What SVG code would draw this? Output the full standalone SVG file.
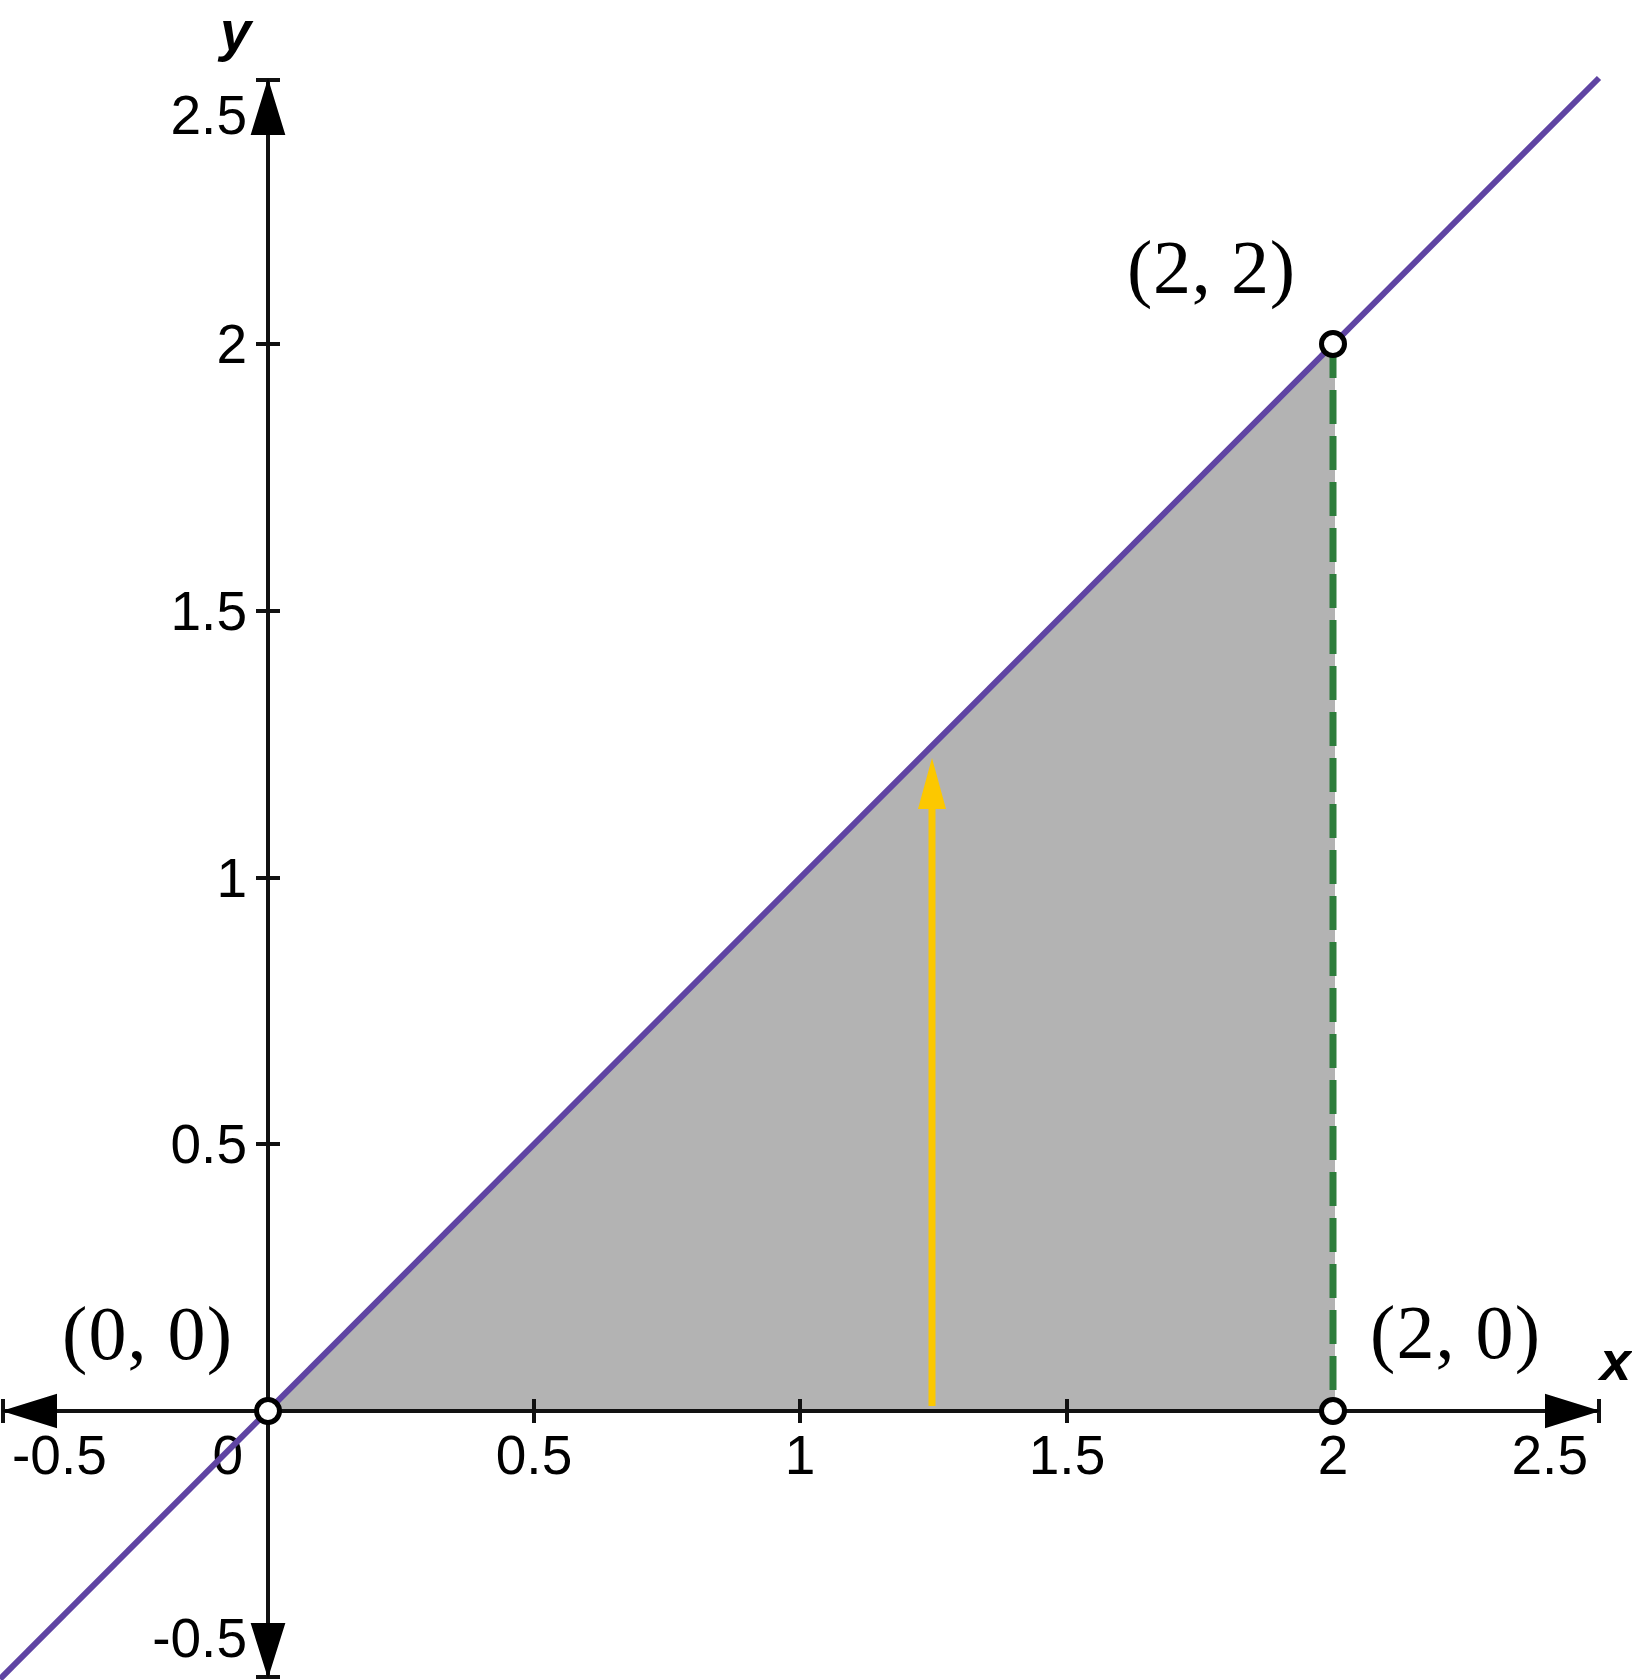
<svg xmlns="http://www.w3.org/2000/svg" width="1632" height="1680" viewBox="0 0 1632 1680">
<style>
.tick{font-family:"Liberation Sans",Arial,sans-serif;font-size:55px;fill:#000}
.ax{font-family:"Liberation Sans",Arial,sans-serif;font-size:56px;font-style:italic;font-weight:bold;fill:#000}
.pt{font-family:"Liberation Serif","Times New Roman",serif;font-size:76px;fill:#000}
.axis{stroke:#111;stroke-width:4;fill:none}
.head{fill:#000;stroke:#000;stroke-width:2;stroke-linejoin:miter}
.pnt{fill:#fff;stroke:#000;stroke-width:5}
</style>
<rect width="1632" height="1680" fill="#fff"/>
<g id="region">
<polygon points="268,1411 1333,344 1335,344 1335,1411" fill="#b3b3b3"/>
</g>
<g id="axes">
<line class="axis" x1="3" y1="1411" x2="1599" y2="1411"/>
<line class="axis" x1="268" y1="80" x2="268" y2="1677"/>
<path class="axis" d="M3,1399V1423M1599,1399V1423M256,80H280M256,1677H280" stroke-width="3"/>
<path class="axis" d="M534,1399V1423M800,1399V1423M1067,1399V1423M1333,1399V1423M256,1144H280M256,878H280M256,611H280M256,344H280" stroke-width="3"/>
<polygon class="head" points="5,1411 56,1395 56,1427"/>
<polygon class="head" points="1597,1411 1546,1395 1546,1427"/>
<polygon class="head" points="268,82 252,134 284,134"/>
<polygon class="head" points="268,1675 252,1624 284,1624"/>
</g>
<g id="tick-labels">
<text class="tick" x="12" y="1474">-0.5</text>
<text class="tick" x="243" y="1474" text-anchor="end">0</text>
<text class="tick" x="534" y="1474" text-anchor="middle">0.5</text>
<text class="tick" x="800" y="1474" text-anchor="middle">1</text>
<text class="tick" x="1067" y="1474" text-anchor="middle">1.5</text>
<text class="tick" x="1333" y="1474" text-anchor="middle">2</text>
<text class="tick" x="1588" y="1474" text-anchor="end">2.5</text>
<text class="tick" x="247" y="134" text-anchor="end">2.5</text>
<text class="tick" x="247" y="363" text-anchor="end">2</text>
<text class="tick" x="247" y="630" text-anchor="end">1.5</text>
<text class="tick" x="247" y="897" text-anchor="end">1</text>
<text class="tick" x="247" y="1163" text-anchor="end">0.5</text>
<text class="tick" x="247" y="1657" text-anchor="end">-0.5</text>
</g>
<g id="axis-labels">
<text class="ax" x="220" y="50">y</text>
<text class="ax" x="1600" y="1380">x</text>
</g>
<g id="connectors">
<line x1="1333" y1="344" x2="1333" y2="1411" stroke="#2e7d3c" stroke-width="7" stroke-dasharray="34,12"/>
<line x1="0" y1="1679" x2="1599" y2="78" stroke="#5f44a3" stroke-width="6"/>
<line x1="932" y1="1406" x2="932" y2="805" stroke="#fcc800" stroke-width="7"/>
<polygon points="932,758 918,809 946,809" fill="#fcc800"/>
</g>
<g id="p00"><circle class="pnt" cx="268" cy="1411" r="11.5"/><text class="pt" x="62" y="1359" textLength="170" lengthAdjust="spacing">(0, 0)</text></g>
<g id="p22"><circle class="pnt" cx="1333" cy="344" r="11.5"/><text class="pt" x="1127" y="293" textLength="168" lengthAdjust="spacing">(2, 2)</text></g>
<g id="p20"><circle class="pnt" cx="1333" cy="1411" r="11.5"/><text class="pt" x="1370" y="1358" textLength="170" lengthAdjust="spacing">(2, 0)</text></g>
</svg>
